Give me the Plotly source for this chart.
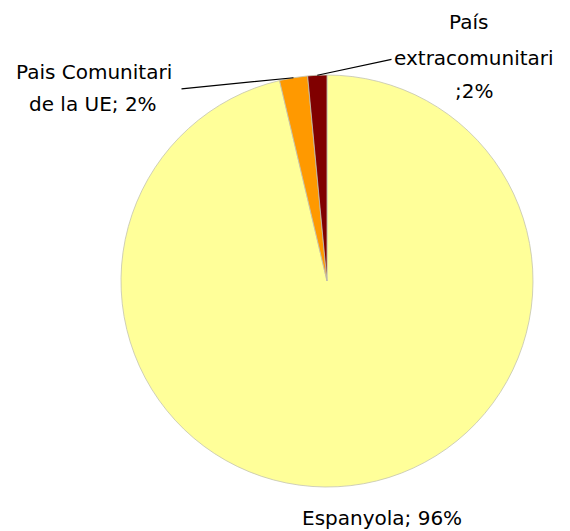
import math

import plotly.graph_objects as go

labels = ["Espanyola", "Pais Comunitari de la UE", "País extracomunitari"]
values = [96.3, 2.2, 1.5]
colors = ["#ffff99", "#ff9900", "#800000"]

# the page body adds an 8px margin, so the figure is drawn 8px in from the window
OFF = 8
W, H = 570 - OFF, 531 - OFF
cx, cy, r = 327 - OFF, 281 - OFF, 206  # pie centre / radius in px

pct = [round(v / sum(values) * 100) for v in values]

fig = go.Figure(
    go.Pie(
        labels=labels,
        values=values,
        sort=False,
        direction="clockwise",
        rotation=0,
        marker={"colors": colors, "line": {"color": "#c4c4b0", "width": 0.8}},
        textinfo="none",
        hoverinfo="label+percent",
        domain={"x": [(cx - r) / W, (cx + r) / W], "y": [1 - (cy + r) / H, 1 - (cy - r) / H]},
        showlegend=False,
    )
)


def edge_point(i):
    """Midpoint of slice i on the pie rim, in px."""
    start = sum(values[:i]) / sum(values)
    mid = (start + values[i] / sum(values) / 2) * 2 * math.pi
    return cx + r * math.sin(mid), cy - r * math.cos(mid)


font = {"family": "DejaVu Sans", "size": 20, "color": "black"}
annotations = []

# leader lines: slice rim -> label
for i, tail in [(1, (180, 89)), (2, (393, 59))]:
    px, py = edge_point(i)
    tx, ty = tail[0] - OFF, tail[1] - OFF
    annotations.append(dict(
        x=px / W, y=1 - py / H, xref="paper", yref="paper",
        ax=tx - px, ay=ty - py, text="",
        showarrow=True, arrowhead=0, arrowwidth=1.2, arrowcolor="black",
        standoff=0, startstandoff=0,
    ))

text_lines = [
    ("Pais Comunitari", 94, 72),
    (f"de la UE; {pct[1]}%", 93, 104),
    ("País", 468, 22),
    ("extracomunitari", 474, 58),
    (f";{pct[2]}%", 474, 91),
    (f"{labels[0]}; {pct[0]}%", 382, 518),
]
for txt, x, y in text_lines:
    annotations.append(dict(
        x=(x - OFF) / W, y=1 - (y - OFF) / H, xref="paper", yref="paper", text=txt,
        showarrow=False, font=font, xanchor="center", yanchor="middle",
    ))

fig.update_layout(
    width=W, height=H,
    margin={"l": 0, "r": 0, "t": 0, "b": 0},
    paper_bgcolor="white", plot_bgcolor="white",
    annotations=annotations,
)
fig.write_html("out.html")
